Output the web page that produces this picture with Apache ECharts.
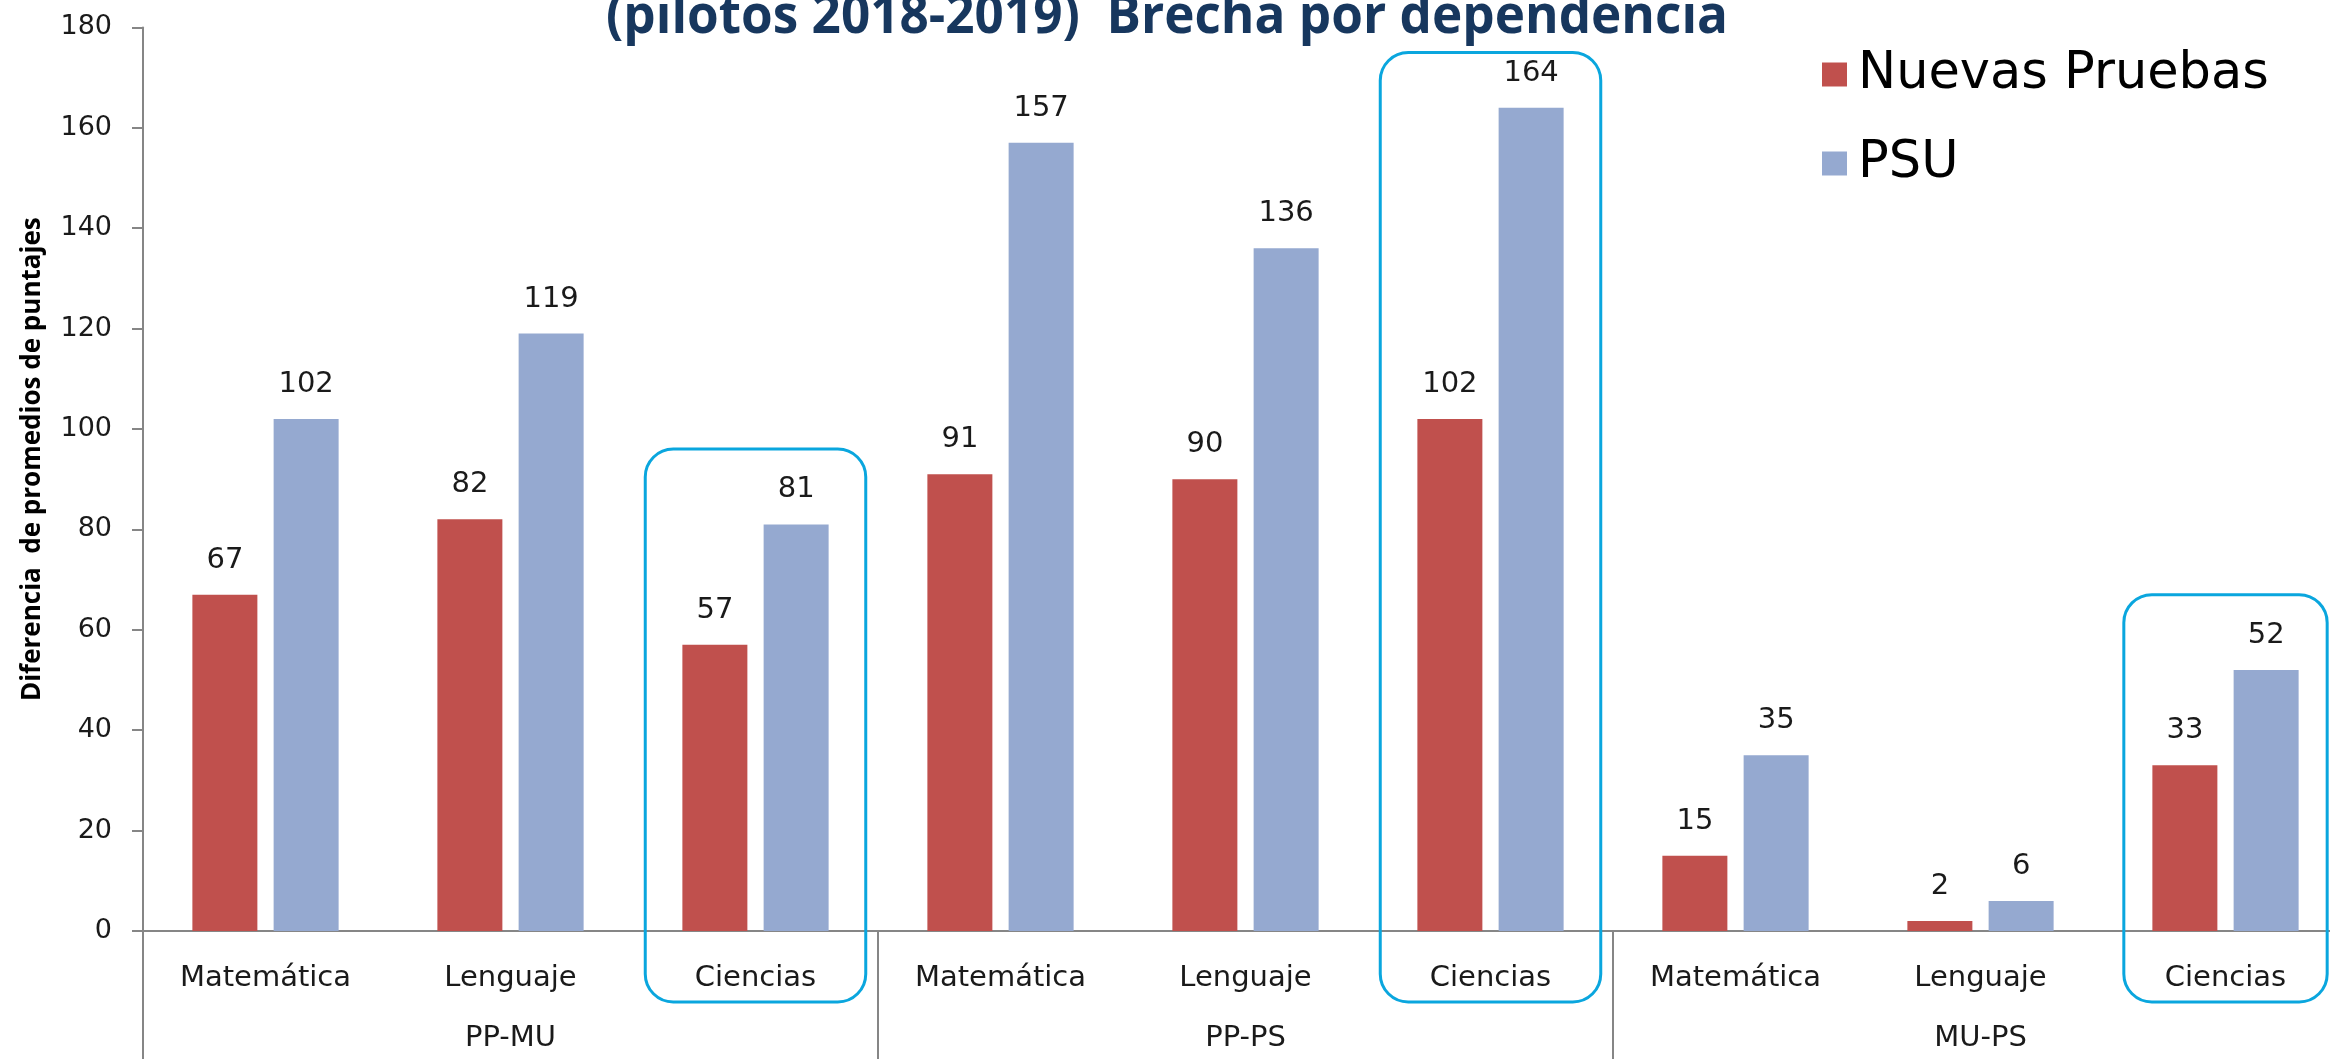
<!DOCTYPE html>
<html>
<head>
<meta charset="utf-8">
<script src="https://cdn.jsdelivr.net/npm/echarts@6/dist/echarts.min.js"></script>
<style>
  html, body { margin: 0; padding: 0; background: #ffffff; }
  #chart { width: 2330px; height: 1059px; }
</style>
</head>
<body>
<div id="chart"></div>
<script>
// ---- data ----
var subjects = ['Matemática', 'Lenguaje', 'Ciencias', 'Matemática', 'Lenguaje', 'Ciencias', 'Matemática', 'Lenguaje', 'Ciencias'];
var groups = ['PP-MU', 'PP-PS', 'MU-PS'];
var nuevasPruebas = [67, 82, 57, 91, 90, 102, 15, 2, 33];
var psu = [102, 119, 81, 157, 136, 164, 35, 6, 52];
var seriesNames = ['Nuevas Pruebas', 'PSU'];
var highlighted = [2, 5, 8]; // category indices framed with a rounded box
var titleText = '(pilotos 2018-2019)  Brecha por dependencia';
var yAxisName = 'Diferencia  de promedios de puntajes';

var RED = '#C0504D', BLUE = '#95A9D0', AXIS = '#868686', FRAME = '#0AA6DE', TXT = '#1a1a1a';
var FONT = '"DejaVu Sans", Verdana, sans-serif';
var TITLE_FONT = '"Open Sans", sans-serif';

var chart = echarts.init(document.getElementById('chart'), null, { renderer: 'canvas' });

var option = {
  backgroundColor: '#ffffff',
  animation: false,
  grid: { left: 143, width: 2205, top: 27.4, height: 903.6, containLabel: false, outerBoundsMode: 'none' },
  legend: {
    orient: 'vertical',
    left: 1822,
    top: 49,
    padding: 0,
    itemWidth: 25,
    itemHeight: 24,
    itemGap: 38,
    icon: 'rect',
    data: seriesNames,
    textStyle: { fontFamily: FONT, fontSize: 51, color: '#000', padding: [0, 0, 0, 6] }
  },
  xAxis: [
    {
      type: 'category',
      data: subjects,
      position: 'bottom',
      axisLine: { show: true, lineStyle: { color: AXIS, width: 2 } },
      axisTick: { show: false },
      axisLabel: { interval: 0, margin: 33, fontFamily: FONT, fontSize: 29, color: TXT }
    },
    {
      type: 'category',
      data: groups,
      position: 'bottom',
      offset: 0,
      axisLine: { show: false },
      axisTick: { show: true, interval: 0, alignWithLabel: false, length: 132, lineStyle: { color: AXIS, width: 2 } },
      axisLabel: { interval: 0, margin: 93, fontFamily: FONT, fontSize: 29, color: TXT }
    }
  ],
  yAxis: {
    type: 'value',
    min: 0,
    max: 180,
    interval: 20,
    name: yAxisName,
    nameLocation: 'middle',
    nameRotate: 90,
    nameGap: 97,
    nameTextStyle: { fontFamily: TITLE_FONT, fontWeight: 'bold', fontSize: 26, color: '#000', padding: [0, 0, 0, 40] },
    axisLine: { show: true, lineStyle: { color: AXIS, width: 2 } },
    axisTick: { show: true, length: 11, lineStyle: { color: AXIS, width: 2 } },
    splitLine: { show: false },
    axisLabel: { margin: 31, fontFamily: FONT, fontSize: 27, color: TXT }
  },
  series: [
    {
      name: seriesNames[0],
      type: 'bar',
      xAxisIndex: 0,
      data: nuevasPruebas,
      barWidth: 65,
      barGap: '25%',
      itemStyle: { color: RED },
      label: { show: true, position: 'top', distance: 20, fontFamily: FONT, fontSize: 29, color: TXT }
    },
    {
      name: seriesNames[1],
      type: 'bar',
      xAxisIndex: 0,
      data: psu,
      barWidth: 65,
      barGap: '25%',
      itemStyle: { color: BLUE },
      label: { show: true, position: 'top', distance: 20, fontFamily: FONT, fontSize: 29, color: TXT }
    }
  ]
};

chart.setOption(option);

// ---- annotations: title (stretched horizontally) and rounded frames derived from data ----
function addGraphics() {
  var p0 = chart.convertToPixel({ xAxisIndex: 0, yAxisIndex: 0 }, [0, 0]);
  var p1 = chart.convertToPixel({ xAxisIndex: 0, yAxisIndex: 0 }, [1, 0]);
  var catW = p1[0] - p0[0];
  var zeroY = p0[1];
  var widthFrac = [0.9, 0.9, 0.83];
  var elements = [];
  highlighted.forEach(function (ci, k) {
    var topVal = Math.min(Math.max(nuevasPruebas[ci], psu[ci]) + 15, 175);
    var c = chart.convertToPixel({ xAxisIndex: 0, yAxisIndex: 0 }, [ci, topVal]);
    var w = catW * widthFrac[k];
    elements.push({
      type: 'rect',
      shape: { x: c[0] - w / 2, y: c[1], width: w, height: zeroY + 71 - c[1], r: 28 },
      style: { fill: 'none', stroke: FRAME, lineWidth: 3 },
      z: 10
    });
  });
  var titleSize = 53;
  var ctx = document.createElement('canvas').getContext('2d');
  ctx.font = 'bold ' + titleSize + 'px ' + TITLE_FONT;
  var measured = ctx.measureText(titleText).width || 1;
  var targetWidth = 1122;
  elements.push({
    type: 'text',
    x: 606,
    y: 18,
    scaleX: targetWidth / measured,
    scaleY: 1,
    style: {
      text: titleText,
      x: 0, y: 0,
      fontFamily: TITLE_FONT,
      fontWeight: 'bold',
      fontSize: titleSize,
      fill: '#17375E',
      align: 'left',
      verticalAlign: 'middle'
    },
    z: 20
  });
  chart.setOption({ graphic: { elements: elements } });
}
addGraphics();
</script>
</body>
</html>
